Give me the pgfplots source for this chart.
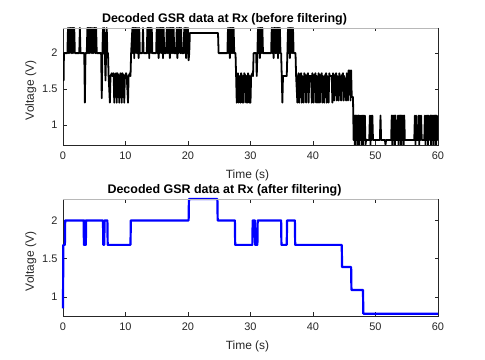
\documentclass[border=0pt]{standalone}
\usepackage{pgfplots}
\pgfplotsset{compat=1.18}
\usepackage{fontspec}
\setmainfont{Liberation Sans}

\definecolor{axgray}{rgb}{0.15,0.15,0.15}
\definecolor{topgray}{rgb}{0.72,0.72,0.72}
\definecolor{mblue}{rgb}{0,0,1}

\pgfplotsset{
  gsr/.style={
    scale only axis,
    width=375bp, height=117bp,
    anchor=south west,
    xmin=0, xmax=60,
    xtick={0,10,...,60},
    ytick={1,1.5,2},
    tick align=inside,
    major tick length=3.5bp,
    axis line style={axgray, line width=0.6pt},
    every tick/.style={axgray, line width=0.6pt},
    tick label style={font=\fontsize{11}{12}\selectfont, text=axgray},
    xticklabel style={yshift=-3bp},
    yticklabel style={xshift=-2bp},
    /pgf/number format/assume math mode=true,
    label style={font=\fontsize{12}{13}\selectfont, text=axgray},
    title style={font=\bfseries\fontsize{12.5}{13}\selectfont, yshift=-7bp, xshift=-26bp},
    xlabel={Time (s)}, ylabel={Voltage (V)},
    xlabel style={yshift=-4bp, xshift=-3bp},
    ylabel style={yshift=-1bp, xshift=-4bp},
    after end axis/.code={\draw[topgray, line width=0.8pt] (rel axis cs:0,1) -- (rel axis cs:1,1);},
  }
}

\begin{document}
\begin{tikzpicture}
\useasboundingbox (0,0) rectangle (485bp,360bp);

% raw decoded data
\begin{axis}[gsr, at={(63bp,215bp)}, ymin=0.72, ymax=2.35,
  title={Decoded GSR data at Rx (before filtering)}]
\addplot[black, line width=1.8pt, line join=round] coordinates {
(0,1.65)(0.1,1.62)(0.15,2.0)
(0.7,2.0)(0.8,2.35)(0.9,2.0)(1.0,2.35)(1.1,2.0)(1.2,2.35)(1.3,2.35)(1.4,2.0)(1.5,2.35)(1.6,2.0)(1.7,2.35)(1.8,2.35)(1.9,2.0)
(2.6,2.0)(2.7,2.35)(2.8,2.0)
(3.4,2.0)(3.5,1.31)(3.6,2.0)
(3.8,2.0)(3.9,2.35)(4.0,2.0)(4.1,2.35)(4.2,2.0)(4.3,2.35)(4.4,2.35)(4.5,2.0)(4.6,2.35)(4.7,2.0)(4.8,2.35)(4.9,2.0)(5.0,2.35)(5.1,2.35)(5.2,2.0)(5.3,2.35)(5.4,2.0)
(6.1,2.0)(6.2,1.37)(6.3,2.0)(6.4,2.35)(6.5,2.0)(6.6,2.35)(6.7,2.0)(6.8,1.62)(6.9,2.0)(7.0,2.35)(7.1,2.0)(7.2,2.0)
(7.3,1.68)(7.5,1.31)(7.6,1.68)(7.8,1.72)(7.9,1.68)(8.1,1.72)(8.2,1.31)(8.3,1.68)(8.5,1.72)(8.6,1.31)(8.7,1.72)(8.9,1.68)(9.0,1.31)(9.1,1.68)(9.2,1.72)(9.3,1.68)(9.4,1.31)(9.5,1.72)(9.7,1.68)(9.8,1.31)(9.9,1.68)(10.1,1.72)(10.2,1.68)(10.4,1.31)(10.5,1.68)(10.7,1.72)(10.8,1.68)
(10.9,2.0)(11.1,2.35)(11.2,2.0)(11.3,2.35)(11.4,1.93)(11.5,2.35)(11.6,2.35)(11.7,2.0)(11.8,2.35)(11.9,2.0)(12.0,2.35)(12.1,1.93)(12.2,2.35)(12.3,2.0)
(12.7,2.0)(12.8,2.35)(12.9,2.0)
(13.4,2.0)(13.5,2.35)(13.6,2.0)(13.7,2.35)(13.8,1.93)(13.9,2.35)(14.0,2.35)(14.1,2.0)(14.2,2.35)(14.3,2.0)
(14.9,2.0)(15.0,2.35)(15.1,2.0)(15.2,2.35)(15.3,1.93)(15.4,2.35)(15.5,2.0)(15.6,2.35)(15.7,2.35)(15.8,2.0)(15.9,2.35)(16.0,1.93)(16.1,2.35)(16.2,2.0)
(16.5,2.0)(16.6,2.35)(16.7,2.0)(16.8,2.35)(16.9,2.0)(17.0,2.35)(17.1,1.93)(17.2,2.35)(17.3,2.35)(17.4,2.0)(17.5,2.35)(17.6,2.0)(17.7,2.35)(17.8,2.0)
(18.1,2.0)(18.2,2.35)(18.3,1.93)(18.4,2.35)(18.5,2.0)(18.6,2.35)(18.7,2.35)(18.8,2.0)(18.9,2.35)(19.0,2.0)
(19.3,2.0)(19.4,2.35)(19.5,2.0)(19.6,2.35)(19.7,1.93)(19.8,2.35)(19.9,2.0)(20.0,2.35)(20.1,1.9)(20.2,2.0)
(20.3,2.28)(24.8,2.28)(24.9,2.0)
(26.3,2.0)(26.4,2.35)(26.5,2.0)(26.6,2.35)(26.7,1.93)(26.8,2.35)(26.9,2.35)(27.0,2.0)(27.1,2.35)(27.2,2.0)(27.3,2.35)(27.4,2.0)(27.6,2.0)
(27.7,1.68)(27.8,1.31)(27.9,1.68)(28.0,1.72)(28.1,1.31)(28.2,1.68)(28.4,1.31)(28.5,1.72)(28.6,1.68)(28.7,1.31)(28.8,1.68)(28.9,1.31)(29.0,1.72)(29.2,1.68)(29.3,1.31)(29.4,1.68)(29.5,1.31)(29.6,1.72)(29.7,1.68)(29.8,1.31)(29.9,1.68)(30.0,1.31)(30.1,1.68)(30.3,1.72)(30.4,1.68)
(30.5,2.0)(30.9,2.0)(31.0,1.68)(31.1,2.0)(31.2,2.35)(31.3,2.0)(31.4,2.35)(31.5,1.93)(31.6,2.35)(31.7,2.35)(31.8,2.0)(31.9,2.35)(32.0,2.0)
(33.3,2.0)(33.4,2.35)(33.5,2.0)(33.6,2.35)(33.7,1.93)(33.8,2.35)(33.9,2.35)(34.0,2.0)(34.1,2.35)(34.2,2.0)(34.3,2.35)(34.4,1.93)(34.5,2.35)(34.6,2.0)(34.7,2.35)(34.8,2.0)(34.9,2.0)
(35.0,1.68)(35.1,1.31)(35.2,1.68)(35.8,1.68)
(35.9,2.0)(36.0,2.35)(36.1,2.0)(36.2,2.35)(36.3,1.93)(36.4,2.35)(36.5,2.0)(36.6,2.35)(36.7,2.0)(36.8,2.35)(36.9,2.0)(37.2,2.0)
(37.3,1.68)(37.5,1.31)(37.6,1.68)(37.7,1.72)(37.8,1.31)(37.9,1.68)(38.1,1.72)(38.2,1.31)(38.3,1.68)(38.5,1.31)(38.6,1.72)(38.8,1.68)(38.9,1.31)(39.0,1.68)(39.2,1.72)(39.3,1.31)(39.4,1.68)
(39.7,1.68)(39.8,1.31)(39.9,1.72)(40.0,1.68)(40.1,1.31)(40.2,1.68)(40.4,1.72)(40.5,1.31)(40.6,1.68)(40.8,1.31)(40.9,1.72)(41.0,1.68)(41.1,1.31)(41.2,1.68)(41.4,1.72)(41.5,1.31)(41.6,1.68)(41.8,1.31)(41.9,1.68)(42.1,1.72)(42.2,1.31)(42.3,1.68)(42.5,1.31)(42.6,1.72)(42.7,1.68)
(43.0,1.68)(43.1,1.31)(43.2,1.72)(43.3,1.68)(43.4,1.34)(43.5,1.68)(43.7,1.72)(43.8,1.34)(43.9,1.68)(44.1,1.34)(44.2,1.72)(44.3,1.68)(44.5,1.34)(44.6,1.68)(44.8,1.72)(44.9,1.34)(45.0,1.68)(45.3,1.34)(45.4,1.72)(45.5,1.68)(45.6,1.34)(45.7,1.76)(45.8,1.68)(45.9,1.76)(46.0,1.34)(46.1,1.76)
(46.2,1.39)(46.4,1.39)
(46.5,0.79)(46.6,1.13)(46.7,0.72)(46.8,1.13)(46.9,0.79)(47.0,1.13)(47.1,0.72)(47.2,1.13)(47.3,1.13)(47.4,0.72)(47.5,1.13)(47.6,0.79)(47.7,1.13)(47.8,0.72)(47.9,1.13)(48.0,0.72)(48.1,1.13)(48.2,0.79)(48.3,1.13)(48.4,0.72)(48.5,0.79)
(49.0,0.79)(49.1,1.13)(49.2,0.72)(49.3,1.13)(49.4,0.79)(49.5,1.13)(49.6,0.79)
(50.7,0.79)(50.8,1.13)(50.9,0.79)
(51.5,0.79)(51.6,0.72)(51.7,0.79)
(52.5,0.79)(52.6,1.13)(52.7,0.72)(52.8,1.13)(52.9,0.79)(53.0,1.13)(53.1,0.72)(53.2,1.13)(53.3,0.79)(53.5,0.79)(53.6,1.13)(53.7,0.72)(53.8,1.13)(53.9,0.79)(54.0,1.13)(54.1,0.72)(54.2,1.13)(54.3,0.79)(54.4,1.13)(54.5,0.72)(54.6,1.13)(54.7,0.79)
(56.2,0.79)(56.3,1.13)(56.4,0.72)(56.5,1.13)(56.6,0.79)(56.8,0.79)(56.9,1.13)(57.0,0.72)(57.1,1.13)(57.2,0.79)(57.3,1.13)(57.4,0.79)
(57.8,0.79)(57.9,1.13)(58.0,0.72)(58.1,1.13)(58.2,0.79)(58.3,1.13)(58.4,0.72)(58.5,1.13)(58.6,0.79)(58.8,1.13)(58.9,0.72)(59.0,1.13)(59.1,0.79)(59.2,1.13)(59.3,0.72)(59.4,1.13)(59.5,0.79)(59.6,1.13)(59.7,0.72)(59.8,1.13)(59.9,0.79)(60,1.13)
};
\end{axis}

% filtered data
\begin{axis}[gsr, at={(63bp,44bp)}, ymin=0.75, ymax=2.28, clip=false,
  title={Decoded GSR data at Rx (after filtering)}]
\addplot[mblue, line width=2.2pt, line join=round] coordinates {
(0,0.85)(0.05,1.68)(0.3,1.68)(0.35,2.0)
(3.3,2.0)(3.35,1.68)(3.45,1.68)(3.5,2.0)(3.55,1.68)(3.65,1.68)(3.7,2.0)
(6.4,2.0)(6.45,1.68)(6.6,1.68)(6.65,2.0)(7.1,2.0)(7.15,1.68)
(10.8,1.68)(10.85,2.0)(20.1,2.0)(20.15,2.28)(24.7,2.28)(24.75,2.0)
(27.5,2.0)(27.55,1.68)(30.3,1.68)(30.35,2.0)(30.7,2.0)(30.75,1.68)(31.1,1.68)(31.15,2.0)
(34.9,2.0)(34.95,1.68)(35.8,1.68)(35.85,2.0)(37.1,2.0)(37.15,1.68)
(44.6,1.68)(44.65,1.39)(46.1,1.39)(46.15,1.09)(48.0,1.09)(48.05,0.78)(60,0.78)
};
\end{axis}
\end{tikzpicture}
\end{document}
